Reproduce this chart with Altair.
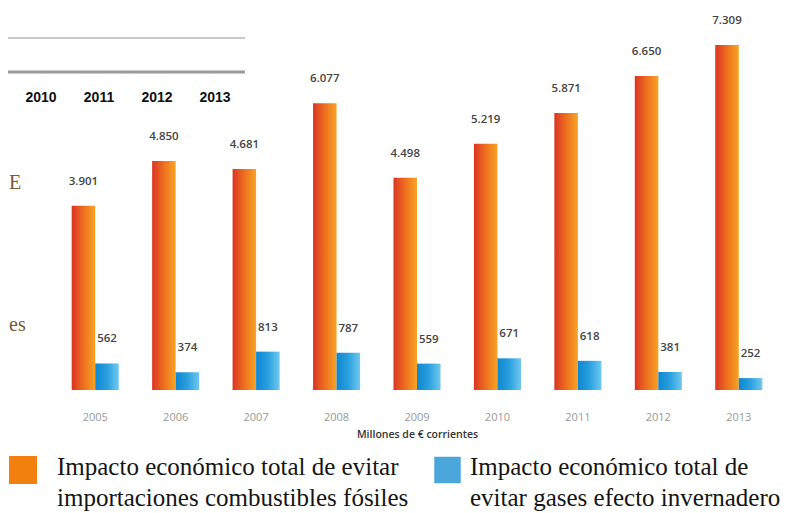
import altair as alt
import pandas as pd

years = ["2005", "2006", "2007", "2008", "2009", "2010", "2011", "2012", "2013"]
fossil = [3901, 4850, 4681, 6077, 4498, 5219, 5871, 6650, 7309]
ghg = [562, 374, 813, 787, 559, 671, 618, 381, 252]
series_names = [
    "Impacto económico total de evitar|importaciones combustibles fósiles",
    "Impacto económico total de|evitar gases efecto invernadero",
]
legend_colors = ["#f1800f", "#4ba6dc"]
table_years = ["2010", "2011", "2012", "2013"]
side_fragments = ["E", "es"]

rows = []
for y, f, g in zip(years, fossil, ghg):
    rows.append({"year": y, "serie": "A", "valor": f})
    rows.append({"year": y, "serie": "B", "valor": g})
df = pd.DataFrame(rows)
leg_df = pd.DataFrame({"serie": ["A", "B"], "nombre": series_names, "color": legend_colors})

orange_grad = alt.LinearGradient(
    gradient="linear", x1=0, x2=1, y1=0, y2=0,
    stops=[alt.GradientStop(color="#da3524", offset=0),
           alt.GradientStop(color="#ee6f1f", offset=0.5),
           alt.GradientStop(color="#f6a425", offset=1)],
)
blue_grad = alt.LinearGradient(
    gradient="linear", x1=0, x2=1, y1=0, y2=0,
    stops=[alt.GradientStop(color="#0f86d0", offset=0),
           alt.GradientStop(color="#2aa0df", offset=0.5),
           alt.GradientStop(color="#70c8ef", offset=1)],
)

x_enc = alt.X(
    "year:N", sort=years,
    scale=alt.Scale(paddingInner=0.415, paddingOuter=0.2075),
    axis=alt.Axis(
        title="Millones de € corrientes", labelAngle=0, domain=False, ticks=False,
        grid=False, labelColor="#999999", labelFont="Open Sans", labelFontSize=11,
        labelPadding=21, titleFont="Open Sans", titleFontSize=10.5,
        titleFontWeight=600, titleColor="#333333", titlePadding=7,
    ),
)
xoff = alt.XOffset("serie:N", sort=["A", "B"], scale=alt.Scale(paddingInner=0, paddingOuter=0))
y_enc = alt.Y("valor:Q", scale=alt.Scale(domain=[0, 8093], nice=False), axis=None)

base = alt.Chart(df).encode(x=x_enc, xOffset=xoff, y=y_enc)

bars_a = base.transform_filter(alt.datum.serie == "A").mark_bar(color=orange_grad)
bars_b = base.transform_filter(alt.datum.serie == "B").mark_bar(color=blue_grad)

labels = base.transform_calculate(
    lab="replace(format(datum.valor, ','), ',', '.')"
).mark_text(
    baseline="middle", dy=-24, font="Open Sans", fontSize=11.5, fontWeight=600,
    color="#454545",
).encode(text="lab:N")

main = alt.layer(bars_a, bars_b, labels)

# legend drawn as marks (two entries side by side, two-line labels)
leg = alt.Chart(leg_df)
leg_sq_a = leg.transform_filter(alt.datum.serie == "A").mark_square(
    size=784, opacity=1
).encode(x=alt.value(-32), y=alt.value(462), color=alt.Color("color:N", scale=None))
leg_sq_b = leg.transform_filter(alt.datum.serie == "B").mark_square(
    size=700, opacity=1
).encode(x=alt.value(392.5), y=alt.value(462), color=alt.Color("color:N", scale=None))
leg_txt_kw = dict(font="Liberation Serif", fontSize=25, color="#151515", align="left",
                  baseline="alphabetic", lineBreak="|", lineHeight=31)
leg_tx_a = leg.transform_filter(alt.datum.serie == "A").mark_text(**leg_txt_kw).encode(
    x=alt.value(2), y=alt.value(467), text="nombre:N")
leg_tx_b = leg.transform_filter(alt.datum.serie == "B").mark_text(**leg_txt_kw).encode(
    x=alt.value(415), y=alt.value(467), text="nombre:N")

# fragments of the neighbouring page content (scan crop)
tbl = pd.DataFrame({"t": table_years})
table_text = alt.Chart(tbl).mark_text(
    font="Liberation Sans", fontSize=14, fontWeight="bold", color="#111",
    baseline="middle",
).encode(
    x=alt.X("t:N", sort=table_years, axis=None,
            scale=alt.Scale(type="point", range=[-14, 160], padding=0)),
    y=alt.value(90),
    text="t:N",
)
line_df = pd.DataFrame({"k": ["l1", "l2"]})
rule1 = alt.Chart(line_df).transform_filter(alt.datum.k == "l1").mark_rule(
    color="#c8c8c8", strokeWidth=2
).encode(x=alt.value(-47), x2=alt.value(190), y=alt.value(30))
rule2 = alt.Chart(line_df).transform_filter(alt.datum.k == "l2").mark_rule(
    color="#9a9a9a", strokeWidth=3
).encode(x=alt.value(-47), x2=alt.value(190), y=alt.value(64))
frag_df = pd.DataFrame({"f": side_fragments})
frag_e = alt.Chart(frag_df).transform_filter(alt.datum.f == "E").mark_text(
    font="Liberation Serif", fontSize=20, color="#7a5a30", align="left", baseline="middle"
).encode(x=alt.value(-46), y=alt.value(175), text="f:N")
frag_es = alt.Chart(frag_df).transform_filter(alt.datum.f == "es").mark_text(
    font="Liberation Serif", fontSize=20, color="#7a5a30", align="left", baseline="middle"
).encode(x=alt.value(-46), y=alt.value(317), text="f:N")

chart = alt.layer(
    main, table_text, leg_sq_a, leg_sq_b, leg_tx_a, leg_tx_b,
    rule1, rule2, frag_e, frag_es
).resolve_scale(x="independent").properties(
    width=724, height=382,
    autosize=alt.AutoSizeParams(type="none"),
    padding={"left": 47, "top": 0, "right": 3, "bottom": 125},
).configure_view(stroke=None)

chart.save("out.html", embed_options={"renderer": "svg", "actions": False})
